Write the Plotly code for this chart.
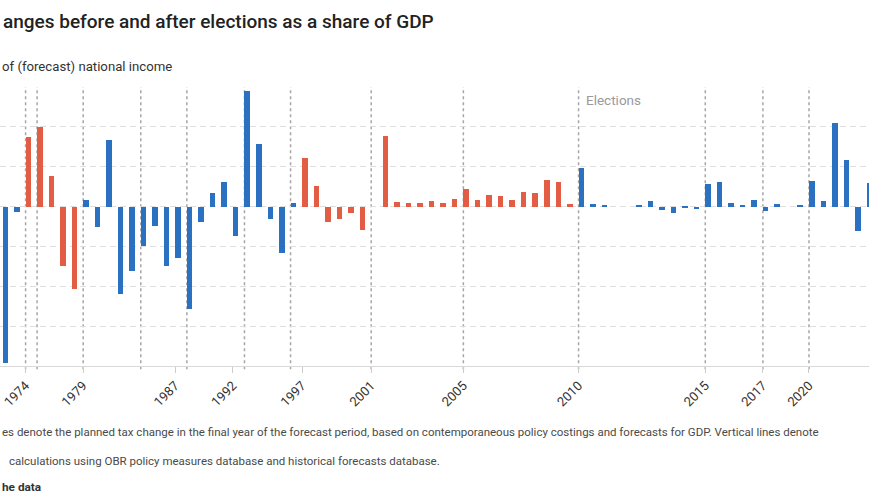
import plotly.graph_objects as go

# ---- data ----
event_index = list(range(76))
values = [
    -1.96, -0.07, 0.87, 1.00, 0.38, -0.74, -1.03, 0.08, -0.26, 0.83,
    -1.10, -0.81, -0.49, -0.24, -0.74, -0.64, -1.28, -0.19, 0.17, 0.31,
    -0.37, 1.45, 0.78, -0.15, -0.58, 0.05, 0.61, 0.26, -0.19, -0.15,
    -0.08, -0.29, 0.00, 0.89, 0.06, 0.05, 0.05, 0.07, 0.05, 0.09,
    0.22, 0.08, 0.14, 0.13, 0.08, 0.18, 0.17, 0.33, 0.31, 0.03,
    0.48, 0.03, 0.02, 0.00, 0.00, 0.02, 0.07, -0.04, -0.08, -0.01,
    -0.03, 0.28, 0.31, 0.04, 0.02, 0.08, -0.05, 0.03, 0.00, 0.02,
    0.32, 0.07, 1.05, 0.58, -0.31, 0.29,
]
party = (["C"] * 2 + ["L"] * 5 + ["C"] * 19 + ["L"] * 24 + ["C"] * 26)
election_events = [2, 3, 7, 12, 16, 21, 25, 32, 40, 50, 61, 66, 70]
tick_events = [2, 7, 15, 20, 26, 32, 40, 50, 61, 66, 70]
tick_labels = ["1974", "1979", "1987", "1992", "1997", "2001", "2005",
               "2010", "2015", "2017", "2020"]

party_colors = {"C": "#2b71c2", "L": "#e35d45"}
colors = [party_colors[p] for p in party]

W, H = 869, 504
TOP, BOTTOM = 87, 366
BAR_W = 0.48
EDGE = BAR_W / 2


def py(pix):
    return (BOTTOM - pix) / (BOTTOM - TOP)


def px(pix):
    return pix / W


fig = go.Figure()
fig.add_trace(go.Bar(x=event_index, y=values, width=BAR_W,
                     marker=dict(color=colors, line=dict(width=0)),
                     showlegend=False, hoverinfo="y"))

for e in election_events:
    fig.add_shape(type="line", xref="x", yref="paper",
                  x0=e - EDGE, x1=e - EDGE, y0=-0.012, y1=1,
                  line=dict(color="#a6a6a6", width=1.5, dash="dot"),
                  layer="below")

font = "Roboto, 'Noto Sans', sans-serif"
fig.update_layout(
    width=W, height=H,
    margin=dict(l=0, r=0, t=TOP, b=H - BOTTOM),
    paper_bgcolor="white", plot_bgcolor="white",
    font=dict(family=font, color="#333333"),
    bargap=0,
    xaxis=dict(range=[-0.46, 74.97], tickmode="array",
               tickvals=[t - EDGE for t in tick_events], ticktext=tick_labels,
               tickangle=-45, tickfont=dict(size=13, color="#333333"),
               ticks="outside", ticklen=6, tickcolor="#cccccc",
               showgrid=False, zeroline=False,
               showline=True, linecolor="#d9d9d9", linewidth=1),
    yaxis=dict(range=[-2.0, 1.5], dtick=0.5, tick0=0,
               showticklabels=False, showgrid=True,
               gridcolor="#dedede", griddash="6px,4px", gridwidth=1,
               zeroline=False, showline=False),
)

annots = [
    dict(text="anges before and after elections as a share of GDP",
         x=px(1), y=py(22), size=19, color="#222222", weight=500),
    dict(text="of (forecast) national income", x=px(0), y=py(66),
         size=13.2, color="#333333", weight=400),
    dict(text="Elections", x=px(584), y=py(99.5), size=13.5,
         color="#9a9a9a", weight=400),
    dict(text="es denote the planned tax change in the final year of the forecast period, "
              "based on contemporaneous policy costings and forecasts for GDP. Vertical lines denote",
         x=px(0), y=py(432), size=11.5, color="#4a4a4a", weight=400),
    dict(text="calculations using OBR policy measures database and historical forecasts database.",
         x=px(7), y=py(460.5), size=11.5, color="#4a4a4a", weight=400),
    dict(text="he data", x=px(0), y=py(487), size=11.8, color="#333333",
         weight=700),
]
for a in annots:
    fig.add_annotation(text=a["text"], xref="paper", yref="paper",
                       x=a["x"], y=a["y"], xanchor="left", yanchor="middle",
                       showarrow=False,
                       font=dict(family=font, size=a["size"], color=a["color"],
                                 weight=a["weight"]))

fig.write_html("out.html")
